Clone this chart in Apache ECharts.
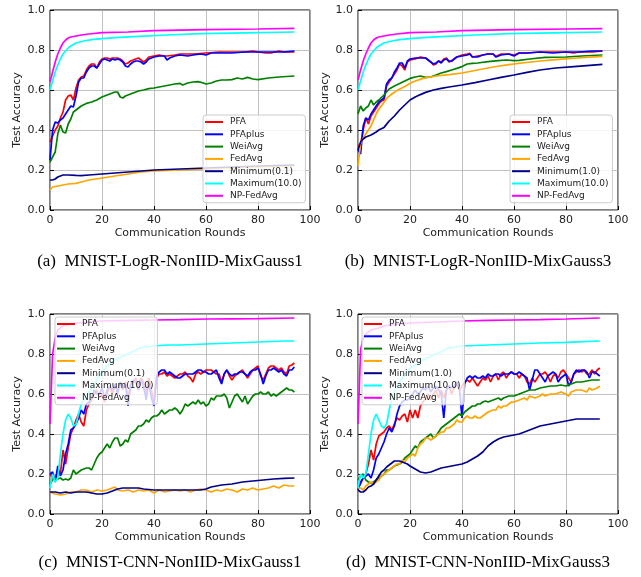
<!DOCTYPE html>
<html>
<head>
<meta charset="utf-8">
<script src="https://cdn.jsdelivr.net/npm/echarts@6/dist/echarts.min.js"></script>
<style>html,body{margin:0;padding:0;background:#fff}#c{width:641px;height:577px}</style>
</head>
<body>
<div id="c"></div>
<script>
// ---------- tick labels / captions ----------
const xTicks = [0, 20, 40, 60, 80, 100];
const yTicks = [0.0, 0.2, 0.4, 0.6, 0.8, 1.0];
const captions = ['(a)  MNIST-LogR-NonIID-MixGauss1', '(b)  MNIST-LogR-NonIID-MixGauss3',
                  '(c)  MNIST-CNN-NonIID-MixGauss1', '(d)  MNIST-CNN-NonIID-MixGauss3'];
const legendA = ['PFA','PFAplus','WeiAvg','FedAvg','Minimum(0.1)','Maximum(10.0)','NP-FedAvg'];
const legendB = ['PFA','PFAplus','WeiAvg','FedAvg','Minimum(1.0)','Maximum(10.0)','NP-FedAvg'];

// ---------- panel (a) : [round, accuracy] ----------
const a_PFA = [[0,0.34],[1,0.37],[2,0.40],[3,0.42],[4,0.46],[5,0.49],[6,0.55],[7,0.57],[8,0.575],[9,0.55],[10,0.61],[11,0.65],[12,0.665],[13,0.67],[14,0.70],[15,0.72],[16,0.73],[17,0.73],[18,0.71],[19,0.74],[20,0.755],[21,0.76],[22,0.76],[23,0.755],[24,0.76],[25,0.76],[26,0.76],[27,0.755],[28,0.745],[29,0.73],[30,0.735],[31,0.745],[32,0.75],[33,0.755],[34,0.76],[35,0.75],[36,0.74],[37,0.75],[38,0.765],[40,0.77],[42,0.775],[44,0.77],[45,0.77],[48,0.775],[50,0.78],[55,0.78],[60,0.785],[65,0.79],[70,0.79],[75,0.79],[78,0.795],[80,0.79],[83,0.785],[85,0.785],[88,0.795],[90,0.79],[94,0.79]];
const a_PFAplus = [[0,0.25],[1,0.40],[2,0.44],[3,0.435],[4,0.45],[5,0.46],[6,0.48],[7,0.50],[8,0.52],[9,0.515],[10,0.57],[11,0.64],[12,0.66],[13,0.66],[14,0.69],[15,0.71],[16,0.72],[17,0.72],[18,0.71],[19,0.73],[20,0.75],[21,0.755],[22,0.75],[23,0.745],[24,0.755],[25,0.75],[26,0.755],[27,0.75],[28,0.74],[29,0.72],[30,0.715],[31,0.73],[32,0.74],[33,0.745],[34,0.745],[35,0.74],[36,0.73],[37,0.74],[38,0.755],[40,0.765],[42,0.77],[44,0.77],[45,0.75],[46,0.76],[48,0.77],[50,0.775],[53,0.77],[55,0.775],[58,0.78],[60,0.775],[62,0.785],[65,0.785],[70,0.785],[75,0.79],[80,0.79],[85,0.79],[90,0.79],[94,0.795]];
const a_WeiAvg = [[0,0.24],[1,0.265],[2,0.29],[3,0.38],[4,0.425],[5,0.39],[6,0.385],[7,0.43],[8,0.455],[9,0.49],[10,0.50],[11,0.51],[12,0.52],[14,0.533],[16,0.54],[18,0.55],[20,0.565],[22,0.575],[23,0.58],[25,0.59],[26,0.59],[27,0.565],[28,0.56],[29,0.57],[30,0.575],[32,0.585],[34,0.595],[36,0.60],[38,0.607],[40,0.61],[42,0.615],[44,0.62],[46,0.625],[48,0.63],[50,0.633],[51,0.625],[53,0.635],[55,0.64],[57,0.642],[59,0.635],[60,0.63],[62,0.635],[64,0.645],[66,0.65],[68,0.65],[70,0.652],[72,0.66],[74,0.655],[76,0.663],[78,0.655],[80,0.652],[84,0.66],[88,0.665],[94,0.67]];
const a_FedAvg = [[0,0.10],[1,0.115],[3,0.12],[5,0.125],[7,0.13],[10,0.133],[12,0.14],[15,0.15],[20,0.16],[25,0.17],[30,0.18],[35,0.19],[40,0.195],[45,0.198],[50,0.20],[60,0.205],[70,0.21],[80,0.215],[94,0.22]];
const a_Min = [[0,0.15],[1,0.15],[2,0.155],[3,0.165],[4,0.17],[5,0.175],[7,0.175],[10,0.173],[12,0.172],[15,0.175],[20,0.18],[25,0.185],[30,0.19],[40,0.20],[50,0.205],[60,0.21],[70,0.215],[80,0.22],[94,0.225]];
const a_Max = [[0,0.60],[1,0.645],[2,0.69],[3,0.725],[4,0.755],[5,0.78],[6,0.795],[7,0.81],[8,0.82],[10,0.835],[13,0.845],[16,0.852],[20,0.857],[25,0.862],[32,0.867],[45,0.875],[58,0.882],[75,0.886],[94,0.89]];
const a_NP = [[0,0.64],[1,0.69],[2,0.74],[3,0.78],[4,0.81],[5,0.835],[6,0.85],[7,0.86],[8,0.865],[10,0.87],[12,0.875],[15,0.88],[20,0.887],[30,0.89],[40,0.897],[60,0.902],[80,0.905],[94,0.908]];

// ---------- panel (b) ----------
const b_PFA = [[0,0.32],[1,0.33],[2,0.40],[3,0.46],[4,0.43],[5,0.47],[6,0.49],[7,0.51],[8,0.53],[9,0.545],[10,0.55],[11,0.62],[12,0.64],[13,0.66],[14,0.68],[15,0.70],[16,0.73],[17,0.72],[18,0.70],[19,0.74],[20,0.75],[22,0.755],[24,0.765],[26,0.76],[27,0.75],[28,0.74],[29,0.725],[30,0.73],[31,0.745],[32,0.74],[33,0.755],[34,0.76],[35,0.74],[36,0.745],[38,0.765],[40,0.775],[42,0.78],[43,0.783],[44,0.765],[46,0.77],[48,0.775],[50,0.78],[52,0.78],[53,0.767],[55,0.78],[58,0.78],[60,0.775],[62,0.785],[65,0.785],[70,0.79],[75,0.79],[80,0.79],[83,0.785],[85,0.79],[90,0.79],[94,0.795]];
const b_PFAplus = [[0,0.30],[1,0.28],[2,0.42],[3,0.46],[4,0.45],[5,0.48],[6,0.50],[7,0.52],[8,0.54],[9,0.55],[10,0.56],[11,0.63],[12,0.65],[13,0.66],[14,0.69],[15,0.71],[16,0.735],[17,0.735],[18,0.71],[19,0.745],[20,0.755],[22,0.76],[24,0.76],[26,0.76],[27,0.75],[28,0.74],[29,0.73],[30,0.735],[31,0.745],[32,0.735],[33,0.75],[34,0.755],[35,0.745],[36,0.745],[38,0.765],[40,0.77],[42,0.775],[43,0.78],[44,0.765],[46,0.765],[48,0.775],[50,0.78],[52,0.78],[53,0.765],[55,0.775],[58,0.78],[60,0.77],[62,0.785],[65,0.785],[70,0.79],[75,0.785],[80,0.79],[83,0.79],[85,0.79],[90,0.795],[94,0.795]];
const b_WeiAvg = [[0,0.48],[1,0.52],[2,0.495],[3,0.51],[4,0.52],[5,0.55],[6,0.525],[7,0.54],[8,0.55],[10,0.575],[12,0.605],[14,0.62],[16,0.632],[18,0.645],[20,0.658],[22,0.665],[24,0.67],[26,0.663],[28,0.665],[30,0.675],[32,0.685],[34,0.692],[36,0.70],[38,0.708],[40,0.717],[42,0.73],[44,0.733],[46,0.735],[50,0.742],[54,0.747],[57,0.75],[60,0.747],[62,0.748],[66,0.755],[72,0.763],[80,0.765],[86,0.77],[94,0.775]];
const b_FedAvg = [[0,0.22],[1,0.33],[2,0.36],[3,0.38],[4,0.40],[5,0.42],[6,0.45],[7,0.48],[8,0.505],[9,0.52],[11,0.558],[13,0.58],[15,0.597],[18,0.617],[21,0.64],[25,0.658],[30,0.67],[35,0.677],[40,0.685],[46,0.70],[52,0.715],[58,0.727],[63,0.735],[70,0.745],[76,0.752],[84,0.76],[94,0.768]];
const b_Min = [[0,0.30],[1,0.34],[2,0.355],[3,0.365],[5,0.375],[7,0.39],[8,0.40],[10,0.413],[12,0.445],[14,0.47],[16,0.50],[18,0.525],[20,0.55],[22,0.565],[24,0.577],[26,0.588],[29,0.60],[32,0.608],[35,0.615],[40,0.625],[45,0.637],[50,0.65],[55,0.663],[60,0.675],[65,0.688],[70,0.70],[76,0.71],[83,0.717],[88,0.722],[94,0.728]];
const b_Max = [[0,0.60],[1,0.645],[2,0.69],[3,0.725],[4,0.755],[5,0.78],[6,0.795],[7,0.81],[8,0.82],[10,0.835],[13,0.845],[16,0.852],[20,0.857],[25,0.862],[32,0.867],[45,0.875],[58,0.882],[75,0.886],[94,0.89]];
const b_NP = [[0,0.65],[1,0.70],[2,0.745],[3,0.78],[4,0.81],[5,0.835],[6,0.85],[7,0.86],[8,0.865],[10,0.87],[12,0.875],[15,0.88],[20,0.887],[30,0.89],[40,0.897],[60,0.902],[80,0.905],[94,0.907]];

// ---------- panel (c) : values per round 0..94 ----------
const c_PFA = [0.20,0.18,0.17,0.22,0.20,0.32,0.25,0.33,0.40,0.43,0.47,0.50,0.46,0.44,0.52,0.55,0.57,0.60,0.62,0.58,0.60,0.56,0.60,0.64,0.60,0.64,0.62,0.65,0.62,0.66,0.58,0.65,0.66,0.68,0.64,0.68,0.66,0.60,0.68,0.62,0.56,0.68,0.70,0.70,0.71,0.69,0.70,0.69,0.68,0.69,0.70,0.70,0.71,0.69,0.68,0.66,0.70,0.71,0.70,0.71,0.72,0.72,0.72,0.71,0.70,0.70,0.66,0.70,0.72,0.69,0.67,0.69,0.70,0.71,0.72,0.70,0.68,0.70,0.72,0.73,0.74,0.69,0.67,0.70,0.73,0.74,0.74,0.73,0.72,0.73,0.71,0.70,0.74,0.745,0.755];
const c_PFAplus = [0.20,0.21,0.16,0.24,0.19,0.22,0.30,0.35,0.42,0.43,0.45,0.48,0.52,0.50,0.55,0.56,0.58,0.62,0.60,0.60,0.63,0.58,0.62,0.64,0.62,0.65,0.60,0.66,0.63,0.65,0.54,0.64,0.67,0.66,0.62,0.67,0.64,0.57,0.66,0.58,0.54,0.69,0.71,0.72,0.72,0.70,0.71,0.70,0.69,0.68,0.68,0.69,0.70,0.70,0.70,0.70,0.71,0.72,0.72,0.71,0.71,0.70,0.70,0.71,0.72,0.68,0.65,0.70,0.72,0.70,0.69,0.70,0.70,0.71,0.71,0.70,0.69,0.71,0.72,0.72,0.73,0.70,0.65,0.69,0.72,0.72,0.73,0.72,0.71,0.72,0.70,0.69,0.72,0.72,0.735];
const c_WeiAvg = [0.15,0.17,0.18,0.175,0.18,0.17,0.175,0.17,0.18,0.22,0.20,0.21,0.22,0.225,0.23,0.23,0.22,0.25,0.28,0.30,0.31,0.33,0.35,0.33,0.36,0.38,0.38,0.34,0.35,0.37,0.36,0.40,0.41,0.42,0.44,0.44,0.45,0.47,0.46,0.48,0.49,0.49,0.50,0.52,0.50,0.51,0.52,0.52,0.53,0.52,0.50,0.52,0.55,0.54,0.55,0.56,0.55,0.57,0.55,0.56,0.54,0.55,0.58,0.57,0.59,0.59,0.59,0.60,0.58,0.53,0.56,0.59,0.60,0.58,0.56,0.59,0.55,0.57,0.59,0.60,0.60,0.61,0.60,0.60,0.61,0.59,0.60,0.59,0.60,0.61,0.62,0.63,0.62,0.62,0.61];
const c_FedAvg = [[0,0.11],[2,0.10],[4,0.095],[6,0.10],[8,0.11],[10,0.11],[12,0.12],[14,0.12],[16,0.11],[18,0.12],[20,0.115],[22,0.12],[24,0.13],[25,0.135],[26,0.12],[28,0.115],[30,0.12],[32,0.11],[34,0.12],[36,0.115],[38,0.12],[40,0.105],[42,0.12],[44,0.11],[46,0.115],[48,0.12],[50,0.115],[52,0.12],[54,0.11],[56,0.12],[58,0.125],[60,0.12],[62,0.11],[64,0.12],[66,0.115],[68,0.125],[70,0.12],[72,0.11],[74,0.125],[76,0.12],[78,0.13],[80,0.12],[82,0.125],[84,0.13],[86,0.14],[88,0.13],[90,0.145],[92,0.14],[94,0.14]];
const c_Min = [[0,0.11],[2,0.11],[4,0.105],[6,0.11],[8,0.105],[10,0.11],[12,0.11],[14,0.11],[16,0.105],[18,0.10],[20,0.10],[22,0.105],[24,0.115],[26,0.125],[28,0.13],[30,0.13],[32,0.13],[34,0.13],[36,0.125],[40,0.12],[45,0.12],[50,0.12],[55,0.12],[58,0.12],[60,0.125],[62,0.135],[64,0.14],[66,0.145],[70,0.15],[74,0.16],[78,0.165],[82,0.17],[86,0.175],[90,0.178],[94,0.18]];
const c_Max = [[0,0.13],[1,0.20],[2,0.16],[3,0.18],[4,0.30],[5,0.40],[6,0.47],[7,0.50],[8,0.48],[9,0.44],[10,0.45],[11,0.50],[12,0.55],[13,0.57],[14,0.585],[15,0.61],[16,0.63],[17,0.65],[18,0.67],[20,0.71],[22,0.74],[25,0.77],[28,0.79],[30,0.80],[33,0.82],[36,0.835],[40,0.84],[45,0.845],[50,0.845],[60,0.85],[70,0.855],[80,0.86],[90,0.865],[94,0.865]];
const c_NP = [[0,0.45],[1,0.80],[2,0.88],[3,0.92],[5,0.94],[8,0.95],[10,0.955],[15,0.96],[20,0.965],[30,0.968],[40,0.97],[50,0.972],[60,0.975],[70,0.976],[80,0.977],[94,0.98]];

// ---------- panel (d) : values per round 0..93 ----------
const d_PFA = [0.13,0.15,0.18,0.20,0.25,0.32,0.27,0.35,0.39,0.40,0.41,0.43,0.44,0.42,0.45,0.48,0.47,0.49,0.50,0.46,0.52,0.48,0.52,0.48,0.54,0.56,0.58,0.60,0.57,0.60,0.62,0.58,0.62,0.58,0.62,0.64,0.60,0.63,0.65,0.62,0.64,0.66,0.67,0.66,0.68,0.66,0.64,0.66,0.68,0.67,0.69,0.66,0.69,0.70,0.67,0.70,0.71,0.68,0.70,0.71,0.70,0.70,0.68,0.70,0.69,0.66,0.65,0.68,0.66,0.68,0.70,0.70,0.71,0.69,0.66,0.69,0.70,0.68,0.71,0.72,0.70,0.68,0.66,0.70,0.71,0.72,0.71,0.72,0.70,0.70,0.72,0.70,0.72,0.73];
const d_PFAplus = [0.12,0.16,0.18,0.19,0.20,0.18,0.22,0.28,0.30,0.33,0.36,0.40,0.43,0.41,0.44,0.50,0.54,0.56,0.57,0.57,0.58,0.60,0.62,0.60,0.61,0.63,0.62,0.64,0.61,0.63,0.64,0.62,0.60,0.48,0.62,0.64,0.63,0.64,0.66,0.63,0.48,0.65,0.68,0.69,0.68,0.69,0.68,0.68,0.69,0.68,0.70,0.69,0.69,0.70,0.70,0.69,0.70,0.70,0.70,0.71,0.70,0.70,0.71,0.70,0.69,0.68,0.62,0.67,0.72,0.72,0.70,0.68,0.66,0.69,0.70,0.71,0.70,0.66,0.68,0.69,0.70,0.64,0.66,0.70,0.72,0.71,0.72,0.72,0.71,0.68,0.71,0.71,0.70,0.69];
const d_WeiAvg = [[0,0.17],[1,0.19],[2,0.20],[3,0.17],[4,0.16],[5,0.155],[6,0.16],[7,0.17],[8,0.18],[9,0.19],[10,0.20],[11,0.22],[12,0.22],[13,0.23],[14,0.24],[15,0.245],[16,0.25],[17,0.26],[18,0.28],[19,0.29],[20,0.30],[21,0.32],[22,0.34],[23,0.33],[24,0.36],[25,0.37],[26,0.38],[27,0.39],[28,0.40],[29,0.38],[30,0.39],[31,0.41],[32,0.43],[33,0.44],[34,0.45],[35,0.46],[36,0.47],[37,0.48],[38,0.49],[39,0.50],[40,0.49],[41,0.51],[42,0.52],[43,0.53],[44,0.54],[45,0.54],[46,0.55],[47,0.55],[48,0.56],[49,0.565],[50,0.56],[52,0.57],[54,0.58],[55,0.57],[56,0.58],[58,0.59],[60,0.59],[62,0.60],[64,0.61],[66,0.62],[68,0.62],[70,0.63],[72,0.635],[74,0.64],[76,0.64],[78,0.645],[80,0.64],[82,0.65],[84,0.66],[86,0.66],[88,0.665],[90,0.67],[93,0.67]];
const d_FedAvg = [[0,0.13],[1,0.13],[2,0.12],[3,0.14],[4,0.15],[5,0.16],[6,0.15],[7,0.16],[8,0.17],[9,0.19],[10,0.20],[11,0.21],[12,0.22],[13,0.23],[14,0.24],[15,0.25],[16,0.25],[17,0.27],[18,0.26],[19,0.28],[20,0.29],[21,0.30],[22,0.29],[23,0.33],[24,0.35],[25,0.36],[26,0.38],[27,0.38],[28,0.37],[29,0.38],[30,0.39],[31,0.40],[32,0.41],[33,0.41],[34,0.43],[35,0.43],[36,0.44],[37,0.45],[38,0.47],[39,0.46],[40,0.46],[41,0.48],[42,0.49],[43,0.48],[44,0.48],[45,0.49],[46,0.48],[47,0.48],[48,0.49],[49,0.50],[50,0.51],[52,0.52],[53,0.52],[54,0.54],[55,0.53],[56,0.54],[57,0.54],[58,0.55],[59,0.56],[60,0.56],[62,0.57],[64,0.58],[65,0.57],[66,0.59],[68,0.58],[70,0.59],[71,0.60],[72,0.59],[74,0.60],[76,0.60],[78,0.61],[80,0.60],[81,0.59],[82,0.61],[84,0.62],[86,0.62],[88,0.61],[89,0.63],[90,0.62],[92,0.63],[93,0.64]];
const d_Min = [[0,0.12],[1,0.11],[2,0.11],[3,0.12],[4,0.135],[5,0.14],[6,0.15],[7,0.17],[8,0.19],[9,0.21],[10,0.22],[11,0.235],[12,0.245],[13,0.255],[14,0.265],[15,0.265],[16,0.265],[17,0.26],[18,0.255],[19,0.25],[20,0.24],[22,0.225],[24,0.21],[26,0.205],[28,0.21],[30,0.22],[32,0.23],[34,0.235],[36,0.24],[38,0.245],[40,0.25],[42,0.26],[44,0.275],[46,0.29],[48,0.31],[50,0.34],[52,0.36],[54,0.375],[56,0.385],[58,0.39],[60,0.395],[62,0.40],[64,0.41],[66,0.42],[68,0.43],[70,0.44],[72,0.445],[74,0.45],[76,0.455],[78,0.46],[80,0.465],[82,0.47],[84,0.475],[86,0.475],[88,0.475],[90,0.475],[93,0.475]];
const d_Max = [[0,0.13],[1,0.20],[2,0.18],[3,0.20],[4,0.30],[5,0.40],[6,0.47],[7,0.50],[8,0.47],[9,0.44],[10,0.43],[11,0.45],[12,0.52],[13,0.58],[15,0.64],[18,0.70],[20,0.73],[25,0.77],[30,0.80],[35,0.83],[40,0.84],[50,0.845],[60,0.85],[70,0.855],[80,0.858],[93,0.865]];
const d_NP = [[0,0.45],[1,0.82],[2,0.88],[3,0.90],[5,0.92],[8,0.93],[10,0.94],[15,0.95],[20,0.955],[30,0.96],[40,0.965],[50,0.968],[60,0.97],[70,0.972],[80,0.975],[93,0.98]];

// ---------- styles ----------
const colors = {PFA:'#ff0000', PFAplus:'#0000ff', WeiAvg:'#008000', FedAvg:'#ffa500',
                Min:'#00008b', Max:'#00ffff', NP:'#ff00ff'};
const idx = arr => arr.map((v, i) => [i, v]);

const panels = [
  {grid:{left:50, top:10}, leg:{left:203, top:115}, names:legendA,
   data:[a_PFA,a_PFAplus,a_WeiAvg,a_FedAvg,a_Min,a_Max,a_NP]},
  {grid:{left:358, top:10}, leg:{left:510, top:115}, names:legendB,
   data:[b_PFA,b_PFAplus,b_WeiAvg,b_FedAvg,b_Min,b_Max,b_NP]},
  {grid:{left:50, top:314}, leg:{left:55, top:317}, names:legendA,
   data:[idx(c_PFA),idx(c_PFAplus),idx(c_WeiAvg),c_FedAvg,c_Min,c_Max,c_NP]},
  {grid:{left:358, top:314}, leg:{left:362, top:317}, names:legendB,
   data:[idx(d_PFA),idx(d_PFAplus),d_WeiAvg,d_FedAvg,d_Min,d_Max,d_NP]}
];
const colorKeys = ['PFA','PFAplus','WeiAvg','FedAvg','Min','Max','NP'];
const font = 'DejaVu Sans';

const option = {
  animation:false,
  backgroundColor:'#fff',
  grid:[], xAxis:[], yAxis:[], series:[], legend:[], graphic:[]
};

panels.forEach((p, gi) => {
  option.grid.push({left:p.grid.left, top:p.grid.top, width:260, height:200,
    show:true, borderColor:'#000', borderWidth:1, backgroundColor:'transparent'});
  option.xAxis.push({type:'value', gridIndex:gi, min:xTicks[0], max:xTicks[xTicks.length-1], interval:20,
    name:'Communication Rounds', nameLocation:'middle', nameGap:18,
    nameTextStyle:{fontFamily:font, fontSize:11, color:'#222'},
    axisLine:{show:false}, axisTick:{show:true, inside:true, length:4, lineStyle:{color:'#000'}},
    axisLabel:{fontFamily:font, fontSize:11, color:'#222', margin:5},
    splitLine:{show:true, lineStyle:{color:'#b0b0b0', width:0.8}}});
  option.yAxis.push({type:'value', gridIndex:gi, min:yTicks[0], max:yTicks[yTicks.length-1], interval:0.2,
    name:'Test Accuracy', nameLocation:'middle', nameGap:27,
    nameTextStyle:{fontFamily:font, fontSize:11, color:'#222'},
    axisLine:{show:false}, axisTick:{show:true, inside:true, length:4, lineStyle:{color:'#000'}},
    axisLabel:{fontFamily:font, fontSize:11, color:'#222', margin:5, formatter:v => v.toFixed(1)},
    splitLine:{show:true, lineStyle:{color:'#b0b0b0', width:0.8}}});
  p.data.forEach((d, si) => {
    const col = colors[colorKeys[si]];
    option.series.push({type:'line', name:p.names[si], xAxisIndex:gi, yAxisIndex:gi,
      data:d, showSymbol:false, symbol:'none', color:col,
      lineStyle:{color:col, width:1.7}, itemStyle:{color:col}, z:2+si*0.01});
  });
  option.legend.push({orient:'vertical', left:p.leg.left, top:p.leg.top, data:p.names,
    icon:'rect', itemWidth:18, itemHeight:2, itemGap:2.3,
    textStyle:{fontFamily:font, fontSize:9, color:'#222', lineHeight:10, padding:[0,0,0,2]},
    backgroundColor:'rgba(255,255,255,0.8)', borderColor:'#cccccc', borderWidth:1, borderRadius:3,
    padding:[2,4,2,2], selectedMode:false, z:10});
  const cx = gi % 2 === 0 ? 170 : 478;
  const cy = gi < 2 ? 262 : 563;
  option.graphic.push({type:'text', x:cx, y:cy, z:100,
    style:{text:captions[gi], fill:'#000', font:'17px "Liberation Serif"', textAlign:'center', textVerticalAlign:'middle'}});
});

const chart = echarts.init(document.getElementById('c'), null, {renderer:'canvas'});
chart.setOption(option);
</script>
</body>
</html>
